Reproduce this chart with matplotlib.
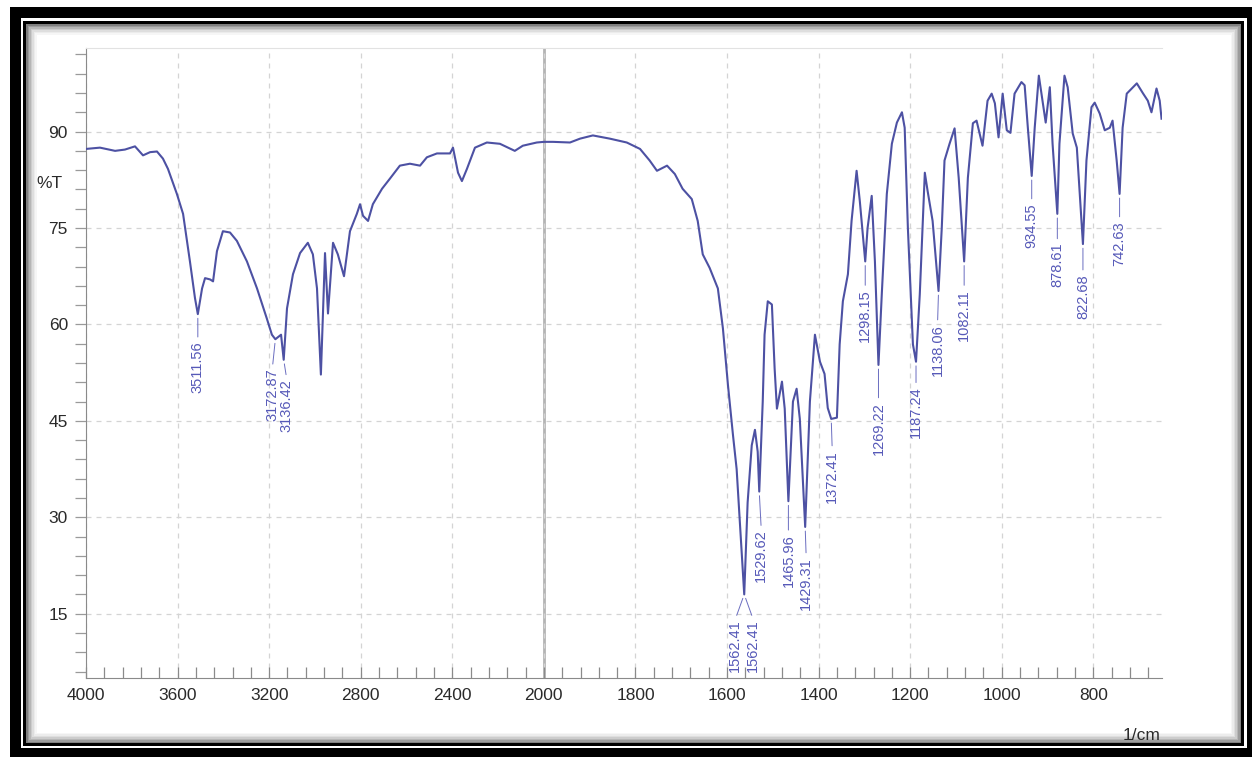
import numpy as np
import matplotlib
matplotlib.use("Agg")
import matplotlib.pyplot as plt
from matplotlib import font_manager
from matplotlib.patches import Rectangle
from matplotlib.transforms import blended_transform_factory

# wavenumber (1/cm) and %T
wavenumber = [4000, 3939, 3873, 3830, 3786, 3751, 3720, 3690, 3664, 3642, 3603, 3576,
              3546, 3524, 3511.56, 3493, 3480, 3458, 3445, 3428, 3402, 3371, 3341, 3297,
              3253, 3210, 3188, 3172.87, 3148, 3136.42, 3122, 3096, 3065, 3031, 3009, 2991,
              2974, 2956, 2943, 2921, 2900, 2873, 2847, 2817, 2803, 2790, 2768, 2747,
              2707, 2672, 2629, 2585, 2541, 2511, 2467, 2410, 2397, 2375, 2358, 2336,
              2301, 2249, 2192, 2127, 2092, 2031, 2000, 1980, 1943, 1921, 1893, 1856,
              1819, 1790, 1769, 1753, 1731, 1714, 1697, 1677, 1664, 1653, 1638, 1620,
              1609, 1598, 1587, 1579, 1572, 1562.41, 1555, 1546, 1539, 1533, 1529.62, 1522,
              1518, 1511, 1502, 1496, 1491, 1480, 1474, 1465.96, 1456, 1448, 1441, 1429.31,
              1419, 1408, 1397, 1387, 1380, 1372.41, 1360, 1354, 1347, 1336, 1328, 1317,
              1310, 1298.15, 1293, 1284, 1277, 1269.22, 1262, 1251, 1240, 1229, 1218, 1212,
              1205, 1194, 1187.24, 1179, 1168, 1162, 1151, 1138.06, 1131, 1125, 1114, 1103,
              1094, 1082.11, 1074, 1063, 1055, 1042, 1031, 1022, 1015, 1007, 998, 989,
              981, 972, 957, 950, 943, 934.55, 928, 919, 911, 904, 895, 889,
              878.61, 874, 863, 856, 845, 836, 822.68, 815, 804, 797, 786, 775,
              764, 758, 749, 742.63, 736, 727, 705, 692, 681, 673, 662, 655, 651]
transmittance = [87.3, 87.5, 87.0, 87.2, 87.7, 86.3, 86.8, 86.9, 85.8, 84.2, 80.3, 77.2,
                 69.8, 64.1, 61.6, 65.6, 67.2, 67.0, 66.7, 71.4, 74.5, 74.3, 73.0, 69.8,
                 65.6, 60.9, 58.4, 57.7, 58.4, 54.5, 62.5, 67.8, 71.1, 72.7, 70.9, 65.6,
                 52.2, 71.1, 61.7, 72.7, 70.9, 67.5, 74.5, 77.2, 78.7, 76.9, 76.1, 78.7,
                 81.1, 82.7, 84.7, 85.0, 84.7, 86.0, 86.6, 86.6, 87.5, 83.6, 82.3, 84.2,
                 87.5, 88.3, 88.1, 87.0, 87.8, 88.3, 88.4, 88.4, 88.3, 88.9, 89.4, 88.9,
                 88.3, 87.3, 85.5, 83.9, 84.7, 83.4, 81.1, 79.5, 76.1, 70.9, 68.8, 65.6,
                 59.4, 50.6, 42.8, 37.5, 29.2, 18.0, 32.3, 41.2, 43.6, 40.2, 34.0, 48.0,
                 58.4, 63.6, 63.1, 53.1, 46.9, 51.1, 46.9, 32.5, 48.0, 50.0, 45.3, 28.5,
                 48.0, 58.4, 54.2, 52.3, 47.0, 45.3, 45.5, 56.9, 63.6, 67.8, 76.1, 83.9,
                 79.2, 69.8, 75.0, 80.0, 69.8, 53.7, 64.7, 80.3, 88.1, 91.4, 93.0, 90.6,
                 75.0, 56.9, 54.2, 64.7, 83.6, 80.8, 76.1, 65.2, 75.0, 85.5, 88.1, 90.5,
                 82.8, 69.8, 82.8, 91.3, 91.7, 87.8, 94.8, 95.9, 94.4, 89.1, 95.9, 90.2,
                 89.8, 95.9, 97.7, 97.2, 90.6, 83.1, 90.6, 98.7, 94.8, 91.4, 96.9, 88.1,
                 77.2, 88.1, 98.7, 96.9, 89.7, 87.5, 72.5, 85.5, 93.8, 94.5, 92.8, 90.2,
                 90.6, 91.7, 85.5, 80.3, 90.6, 95.9, 97.5, 96.0, 94.8, 93.0, 96.7, 94.8, 92.0]

# picked peaks
peak_wn = [3511.56, 3172.87, 3136.42, 1562.41, 1562.41, 1529.62, 1465.96, 1429.31,
           1372.41, 1298.15, 1269.22, 1187.24, 1138.06, 1082.11, 934.55, 878.61,
           822.68, 742.63]
# label placement (dx, drop) in pixels
label_dx = [0, -3, 3, -9, 9, 2, 0, 1, 1, 0, 0, 0, -1, 0, 0, 0, 0, 0]
label_drop = [27, 29, 19, 25, 25, 38, 33, 30, 31, 28, 37, 25, 33, 28, 27, 29, 30, 27]

x_major = [4000, 3600, 3200, 2800, 2400, 2000, 1800, 1600, 1400, 1200, 1000, 800]
y_major = [15, 30, 45, 60, 75, 90]

# fonts
names = {f.name for f in font_manager.fontManager.ttflist}
tick_font = "Liberation Sans Narrow" if "Liberation Sans Narrow" in names else "Liberation Sans"
tick_size = 15 if tick_font == "Liberation Sans Narrow" else 12.5
plt.rcParams['font.family'] = ['Liberation Sans', 'DejaVu Sans']

W, H = 1252, 759
fig = plt.figure(figsize=(W / 100, H / 100), dpi=100, facecolor='white')


def px_rect(x0, y0, x1, y1, color, z):
    r = Rectangle((x0 / W, 1 - y1 / H), (x1 - x0) / W, (y1 - y0) / H,
                  transform=fig.transFigure, facecolor=color, edgecolor='none', zorder=z)
    fig.add_artist(r)


# frame: thick black border, thin white gap, black line, soft grey shadow
px_rect(10, 7, 1252, 757, 'black', -20)
px_rect(21, 18, 1247, 748, 'white', -19)
px_rect(23, 21, 1244, 746, 'black', -18)
shades = ['#808080', '#9c9c9c', '#b6b6b6', '#cccccc', '#dedede', '#ececec', '#f6f6f6', 'white']
for i, c in enumerate(shades):
    px_rect(26 + 1.5 * i, 24 + 1.5 * i, 1241 - 1.5 * i, 743 - 1.5 * i, c, -17 + i)

ax = fig.add_axes([86 / W, (H - 678) / H, (1162 - 86) / W, (678 - 48) / H])
ax.set_zorder(1)


# scale doubles below 2000 1/cm
def fwd(w):
    w = np.asarray(w, dtype=float)
    return np.where(w >= 2000, w, 2 * w - 2000)


def inv(p):
    p = np.asarray(p, dtype=float)
    return np.where(p >= 2000, p, (p + 2000) / 2)


ax.set_xscale('function', functions=(fwd, inv))
ax.set_xlim(4000, 650)
ax.set_ylim(5, 103)

ax.set_xticks(x_major)
ax.set_xticks(list(np.arange(4000, 2000, -80)) + list(np.arange(2000, 640, -40)), minor=True)
ax.set_yticks(y_major)
ax.set_yticks(np.arange(6, 103, 3), minor=True)

ax.grid(True, which='major', color='#d4d4d4', linestyle=(0, (4, 4)), linewidth=0.9)
ax.axvline(2000, color='#b4b4b4', linewidth=2, zorder=1.5)

ax.plot(wavenumber, transmittance, color='#4d51a3', linewidth=1.5, zorder=3)

# peak labels
order = np.argsort(wavenumber)
wn_sorted = np.asarray(wavenumber)[order]
t_sorted = np.asarray(transmittance)[order]
for wn, dx, drop in zip(peak_wn, label_dx, label_drop):
    t = np.interp(wn, wn_sorted, t_sorted)
    ax.annotate(f"{wn:.2f}", xy=(wn, t), xytext=(dx * 0.72, -drop * 0.72),
                textcoords='offset points', rotation=90, ha='center', va='top',
                fontsize=10.5, color='#5659b8', zorder=4,
                arrowprops=dict(arrowstyle='-', color='#6a6dc0', lw=0.7,
                                shrinkA=1, shrinkB=3, relpos=(0.5, 1.0)))

for s in ['left', 'bottom']:
    ax.spines[s].set_color('#8a8a8a')
ax.spines['top'].set_color('#e2e2e2')
ax.spines['right'].set_visible(False)

ax.tick_params(axis='x', which='both', direction='in', length=8, width=0.9,
               color='#8a8a8a', pad=7)
ax.tick_params(axis='y', which='both', direction='out', length=8, width=0.9,
               color='#9a9a9a', pad=5)
for lab in ax.get_xticklabels() + ax.get_yticklabels():
    lab.set_fontfamily(tick_font)
    lab.set_fontsize(tick_size)
    lab.set_color('#2a2a2a')

trans = blended_transform_factory(ax.transAxes, ax.transData)
ax.text(-0.022, 82, '%T', transform=trans, ha='right', va='center',
        fontfamily=tick_font, fontsize=tick_size, color='#2a2a2a')
fig.text(1160 / W, 1 - 736 / H, '1/cm', ha='right', va='center',
         fontfamily=tick_font, fontsize=tick_size, color='#2a2a2a')

plt.savefig('out.png', dpi=100, facecolor='white')
